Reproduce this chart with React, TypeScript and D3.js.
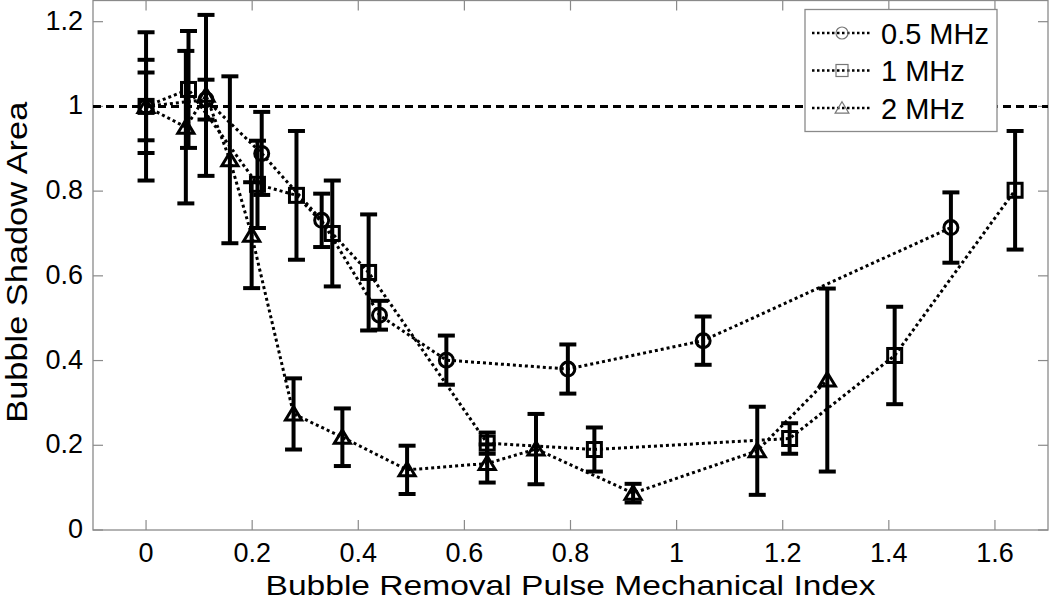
import React from 'react';
import * as d3 from 'd3';

// 0.5 MHz (circles)
const circX = [0, 0.113, 0.218, 0.331, 0.44, 0.566, 0.795, 1.05, 1.517];
const circY = [1.0, 1.016, 0.889, 0.731, 0.507, 0.401, 0.38, 0.447, 0.714];
const circErr = [0.08, 0.047, 0.098, 0.063, 0.034, 0.058, 0.058, 0.057, 0.083];

// 1 MHz (squares)
const sqX = [0, 0.08, 0.21, 0.2835, 0.351, 0.4195, 0.643, 0.845, 1.213, 1.411, 1.638];
const sqY = [1.0, 1.04, 0.816, 0.79, 0.7, 0.608, 0.205, 0.19, 0.216, 0.412, 0.802];
const sqErr = [0.11, 0.138, 0.103, 0.152, 0.125, 0.137, 0.025, 0.052, 0.036, 0.115, 0.14];

// 2 MHz (triangles)
const triX = [0, 0.075, 0.113, 0.158, 0.199, 0.278, 0.37, 0.492, 0.643, 0.735, 0.918, 1.152, 1.284];
const triY = [1.0, 0.951, 1.026, 0.874, 0.696, 0.274, 0.219, 0.142, 0.157, 0.191, 0.087, 0.187, 0.354];
const triErr = [0.175, 0.18, 0.19, 0.197, 0.125, 0.084, 0.068, 0.057, 0.045, 0.083, 0.022, 0.104, 0.216];

const xTicks = [0, 0.2, 0.4, 0.6, 0.8, 1, 1.2, 1.4, 1.6];
const yTicks = [0, 0.2, 0.4, 0.6, 0.8, 1, 1.2];
const legendLabels = ['0.5 MHz', '1 MHz', '2 MHz'];

const W = 1050;
const H = 601;
const margin = { top: 0.5, right: 2, bottom: 71, left: 93 };
const font = '"Liberation Sans", Arial, Helvetica, sans-serif';
const axisGray = '#8a8a8a';

const x = d3.scaleLinear().domain([-0.1, 1.7]).range([margin.left, W - margin.right]);
const y = d3.scaleLinear().domain([0, 1.25]).range([H - margin.bottom, margin.top]);

type Shape = 'circle' | 'square' | 'triangle';

const series: { xs: number[]; ys: number[]; errs: number[]; shape: Shape }[] = [
  { xs: circX, ys: circY, errs: circErr, shape: 'circle' },
  { xs: sqX, ys: sqY, errs: sqErr, shape: 'square' },
  { xs: triX, ys: triY, errs: triErr, shape: 'triangle' },
];

const Marker = ({ shape, cx, cy, size, stroke, sw }: { shape: Shape; cx: number; cy: number; size: number; stroke: string; sw: number }) => {
  if (shape === 'circle') {
    return <circle cx={cx} cy={cy} r={size} fill="none" stroke={stroke} strokeWidth={sw} />;
  }
  if (shape === 'square') {
    return <rect x={cx - size} y={cy - size} width={size * 2} height={size * 2} fill="none" stroke={stroke} strokeWidth={sw} />;
  }
  const h = size * 1.9;
  const pts = [[cx, cy - h * 0.55], [cx + size * 1.15, cy + h * 0.45], [cx - size * 1.15, cy + h * 0.45]];
  return <polygon points={pts.map((p) => p.join(',')).join(' ')} fill="none" stroke={stroke} strokeWidth={sw} strokeLinejoin="miter" />;
};

const App = () => {
  const lineGen = d3.line<[number, number]>()
    .x((d) => x(d[0]))
    .y((d) => y(d[1]));

  const x0 = margin.left;
  const x1 = W - margin.right;
  const y0 = H - margin.bottom;
  const y1 = margin.top;
  const tickLen = 10;
  const capHalf = 8.5;

  return (
    <svg width={W} height={H} style={{ position: 'absolute', left: 0, top: 0, background: '#fff' }} fontFamily={font}>
      <rect x={0} y={0} width={W} height={H} fill="#fff" />

      {/* axes box and ticks */}
      <rect x={x0} y={y1} width={x1 - x0} height={y0 - y1} fill="none" stroke={axisGray} strokeWidth={1.3} />
      {xTicks.map((t) => (
        <g key={'xt' + t}>
          <line x1={x(t)} x2={x(t)} y1={y0} y2={y0 - tickLen} stroke={axisGray} strokeWidth={1.2} />
          <line x1={x(t)} x2={x(t)} y1={y1} y2={y1 + tickLen} stroke={axisGray} strokeWidth={1.2} />
          <text x={x(t)} y={562} fontSize={27} textAnchor="middle" fill="#000">{t}</text>
        </g>
      ))}
      {yTicks.map((t) => (
        <g key={'yt' + t}>
          <line x1={x0} x2={x0 + tickLen} y1={y(t)} y2={y(t)} stroke={axisGray} strokeWidth={1.2} />
          <line x1={x1} x2={x1 - tickLen} y1={y(t)} y2={y(t)} stroke={axisGray} strokeWidth={1.2} />
          <text x={83} y={y(t) + 8} fontSize={27} textAnchor="end" fill="#000">{t}</text>
        </g>
      ))}

      {/* reference line at 1 */}
      <line x1={x0} x2={x1} y1={y(1)} y2={y(1)} stroke="#000" strokeWidth={3} strokeDasharray="8 5" />

      {/* series lines */}
      {series.map((s, i) => (
        <path
          key={'l' + i}
          d={lineGen(s.xs.map((v, j) => [v, s.ys[j]] as [number, number])) || ''}
          fill="none"
          stroke="#000"
          strokeWidth={3}
          strokeDasharray="3 3"
        />
      ))}

      {/* error bars */}
      {series.map((s, i) => (
        <g key={'e' + i} stroke="#000" strokeWidth={4}>
          {s.xs.map((v, j) => {
            const cx = x(v);
            const top = y(s.ys[j] + s.errs[j]);
            const bot = y(s.ys[j] - s.errs[j]);
            return (
              <g key={j}>
                <line x1={cx} x2={cx} y1={top} y2={bot} />
                <line x1={cx - capHalf} x2={cx + capHalf} y1={top} y2={top} />
                <line x1={cx - capHalf} x2={cx + capHalf} y1={bot} y2={bot} />
              </g>
            );
          })}
        </g>
      ))}

      {/* markers */}
      {series.map((s, i) => (
        <g key={'m' + i}>
          {s.xs.map((v, j) => (
            <Marker key={j} shape={s.shape} cx={x(v)} cy={y(s.ys[j])} size={7} stroke="#000" sw={3} />
          ))}
        </g>
      ))}

      {/* legend */}
      <g>
        <rect x={805} y={9.5} width={192} height={122} fill="#fff" stroke={axisGray} strokeWidth={1.3} />
        {legendLabels.map((lab, i) => {
          const ly = 33 + i * 37.5;
          return (
            <g key={lab}>
              <line x1={812} x2={872} y1={ly} y2={ly} stroke="#000" strokeWidth={2.5} strokeDasharray="2.5 2.5" />
              <Marker shape={series[i].shape} cx={842} cy={ly} size={6} stroke="#777" sw={1.2} />
              <text x={881} y={ly + 10.5} fontSize={29} fill="#000">{lab}</text>
            </g>
          );
        })}
      </g>

      {/* axis titles */}
      <text x={(x0 + x1) / 2} y={595} fontSize={28} textAnchor="middle" fill="#000" textLength={610} lengthAdjust="spacingAndGlyphs">
        Bubble Removal Pulse Mechanical Index
      </text>
      <text
        transform={`translate(27, ${(y0 + y1) / 2 - 3}) rotate(-90)`}
        fontSize={29}
        textAnchor="middle"
        fill="#000"
        textLength={321}
        lengthAdjust="spacingAndGlyphs"
      >
        Bubble Shadow Area
      </text>
    </svg>
  );
};

export default App;
